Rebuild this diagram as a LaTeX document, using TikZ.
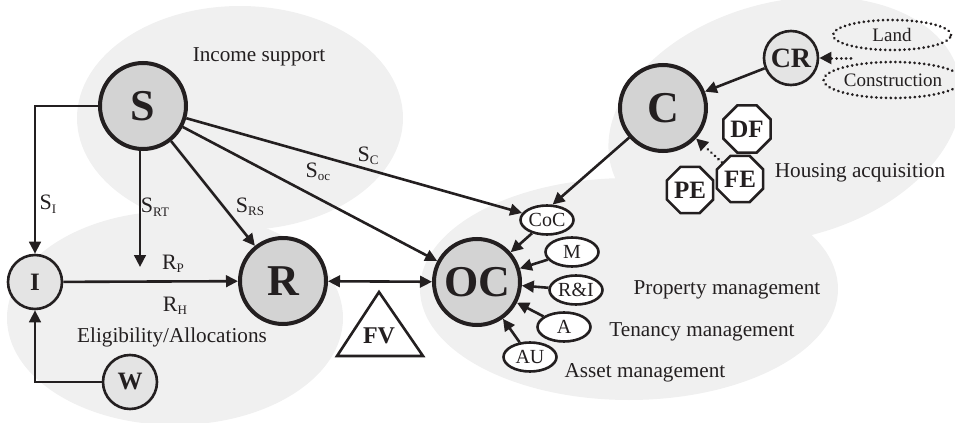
\documentclass[tikz,border=0pt]{standalone}
\usepackage{fontspec}
\setmainfont{Liberation Serif}
\usetikzlibrary{arrows.meta,shapes.geometric}

\definecolor{ink}{RGB}{35,31,32}
\definecolor{blob}{RGB}{240,240,240}
\definecolor{bigfill}{RGB}{211,211,211}
\definecolor{smallfill}{RGB}{228,228,228}

% subscript used in the flow labels
\newcommand\lowidx[1]{\raisebox{-0.35ex}{\fontsize{6.5}{7}\selectfont #1}}

\tikzset{
  bignode/.style={circle, draw=ink, line width=2pt, fill=bigfill, minimum size=43pt,
    inner sep=0pt, text=ink, font=\fontsize{22}{24}\selectfont\bfseries},
  smallnode/.style={circle, draw=ink, line width=1.3pt, fill=smallfill, minimum size=27pt,
    inner sep=0pt, text=ink, font=\fontsize{12.5}{14}\selectfont\bfseries},
  factor/.style={ellipse, draw=ink, line width=1.3pt, fill=white, minimum width=26.5pt,
    minimum height=14.5pt, inner sep=0pt, text=ink, font=\fontsize{10}{11}\selectfont},
  dotline/.style={line width=1.5pt, line cap=round, dash pattern=on 0.01pt off 2.4pt},
  cost/.style={ellipse, draw=ink, dotline, inner sep=0pt, text=ink,
    font=\fontsize{9.5}{10}\selectfont},
  octo/.style={regular polygon, regular polygon sides=8, draw=ink, line width=1.3pt,
    fill=white, minimum size=25pt, inner sep=0pt, text=ink,
    font=\fontsize{12.5}{14}\selectfont\bfseries},
  lab/.style={inner sep=0pt, text=ink, font=\fontsize{10.6}{12}\selectfont},
  flow/.style={inner sep=0pt, text=ink, font=\fontsize{11}{12}\selectfont},
  tip/.tip={Triangle[length=6pt,width=5.8pt]},
  link/.style={draw=ink, line width=1.3pt, -tip},
}

\begin{document}
\begin{tikzpicture}[x=0.5pt, y=-0.5pt]
\useasboundingbox (0,0) rectangle (955,423);

% shaded domains
\fill[blob] (240,118) ellipse [x radius=81.5pt, y radius=56pt];
\fill[blob] (175,318) ellipse [x radius=84pt, y radius=53.5pt];
\fill[blob] (629,289) ellipse [x radius=104.5pt, y radius=55.5pt];
\fill[blob, rotate around={15:(785,120)}] (785,120) ellipse [x radius=90pt, y radius=59pt];

% domain labels
\node[lab] (lIS) at (259,57)  {Income support};
\node[lab] (lEA) at (172,337) {Eligibility/Allocations};
\node[lab] (lPM) at (727,290) {Property management};
\node[lab] (lTM) at (702,332) {Tenancy management};
\node[lab] (lAM) at (645,373) {Asset management};
\node[lab] (lHA) at (860,173) {Housing acquisition};

% main actors
\node[bignode] (S)  at (143,106) {S};
\node[bignode] (R)  at (283,281) {R};
\node[bignode] (OC) at (477,282) {OC};
\node[bignode] (C)  at (663,108) {C};

\node[smallnode] (I)  at (35,282)  {I};
\node[smallnode] (W)  at (130,382) {W};
\node[smallnode, font=\fontsize{14}{16}\selectfont\bfseries] (CR) at (791,58) {CR};

% operating cost components
\node[factor] (CoC) at (547,220) {CoC};
\node[factor] (M)   at (572,252) {M};
\node[factor] (RI)  at (576,290) {R\&I};
\node[factor] (A)   at (564,327) {A};
\node[factor] (AU)  at (530,357) {AU};

% construction inputs
\node[cost, minimum width=59pt, minimum height=15pt] (Land) at (892,35) {Land};
\node[cost, minimum width=60pt, minimum height=18pt] (Cons) at (893,80) {Construction};
\coordinate (LC) at (851,58);

% financing
\node[octo] (DF) at (747,129) {DF};
\node[octo] (FE) at (740,179) {FE};
\node[octo] (PE) at (690,190) {PE};

% financial viability
\draw[ink, line width=1.3pt, fill=white] (379,292) -- (423,356) -- (337,356) -- cycle;
\node[inner sep=0pt, text=ink, font=\fontsize{12}{13}\selectfont\bfseries] (FV) at (379,336) {FV};

% subsidy flows
\coordinate (RTend) at (140,267);
\draw[link] (S.west) -| (I);
\draw[link] (S.south -| RTend) -- (RTend);
\draw[link] (S) -- (R);
\draw[link] (S) -- (OC);
\draw[link] (S) -- (CoC);

\node[flow] (lSI)  at (48,204)  {S\lowidx{I}};
\node[flow] (lSRT) at (155,207) {S\lowidx{RT}};
\node[flow] (lSRS) at (250,207) {S\lowidx{RS}};
\node[flow] (lSOC) at (318,172) {S\lowidx{oc}};
\node[flow] (lSC)  at (368,156) {S\lowidx{C}};

% rent flows
\draw[link] (I) -- (R);
\draw[link] (W) -| (I);
\draw[draw=ink, line width=1.3pt, tip-tip] (R) -- (OC);
\node[flow] (lRP) at (173,264) {R\lowidx{P}};
\node[flow] (lRH) at (175,306) {R\lowidx{H}};

% cost flows into OC
\foreach \n in {CoC, M, RI, A, AU} \draw[link] (\n) -- (OC);

% acquisition
\draw[link] (C) -- (CoC.70);
\draw[link] (CR) -- (C);
\draw[link, dotline] (LC) -- (CR);
\draw[link, dotline] (FE) -- (C);
\end{tikzpicture}
\end{document}
